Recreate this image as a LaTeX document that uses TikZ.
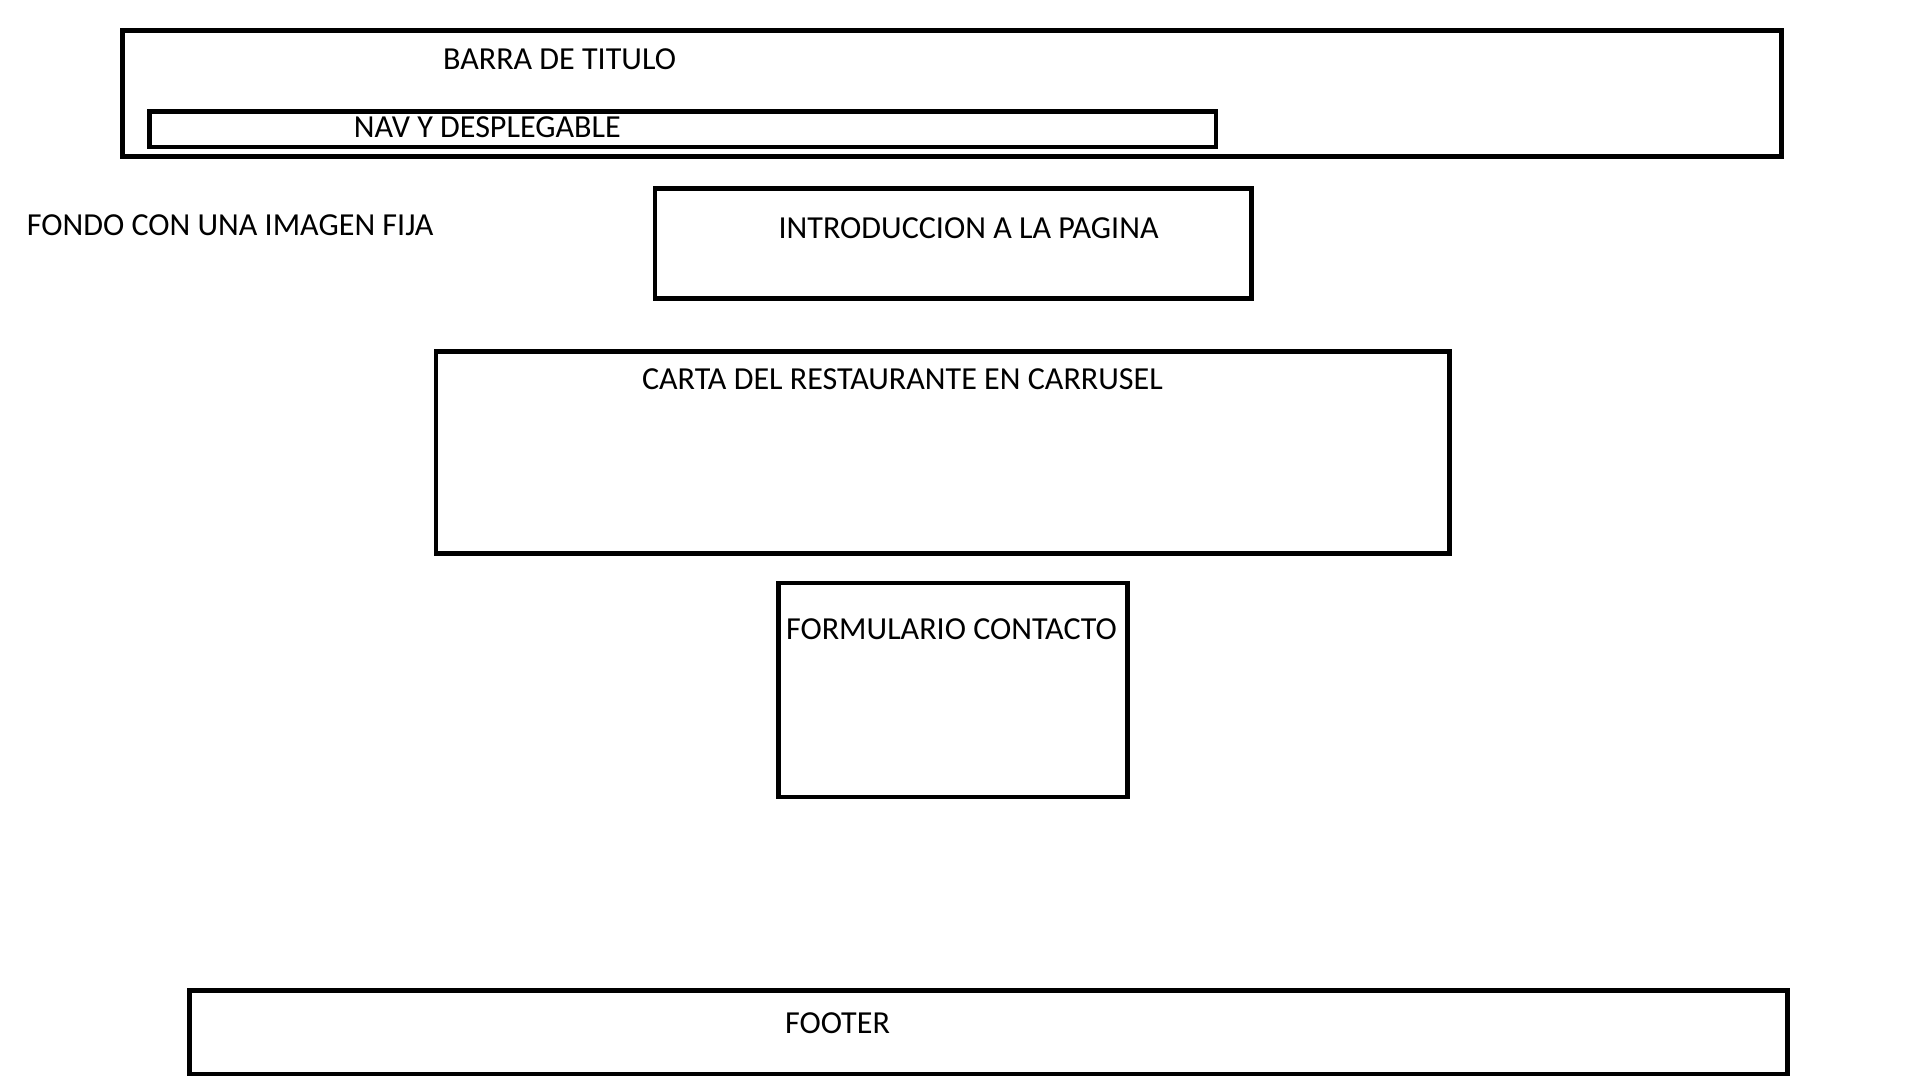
\documentclass[tikz,border=0pt]{standalone}
\usepackage{fontspec}
\setmainfont{Carlito}
\newcommand{\lw}{3.8pt}
\newcommand{\txtsize}{\fontsize{26.2}{30}\selectfont}
\begin{document}
\begin{tikzpicture}[x=1pt,y=-1pt]
\tikzset{caja/.style={draw=black, line width=\lw},
         rotulo/.style={inner sep=0pt, font=\txtsize}}

\useasboundingbox (0,0) rectangle (1568,882);

% cabecera
\draw[caja](100,25) rectangle (1455,128);
\draw[caja](122,91) rectangle (993,120);
\node[rotulo] (barra) at (457,48) {BARRA DE TITULO};
\node[rotulo] (nav) at (398,104) {NAV Y DESPLEGABLE};

\node[rotulo] (fondo) at (188,184) {FONDO CON UNA IMAGEN FIJA};

% cuerpo
\draw[caja](535,154) rectangle (1022,244);
\node[rotulo] (intro) at (791,186) {INTRODUCCION A LA PAGINA};

\draw[caja](356,287) rectangle (1184,452);
\node[rotulo] (carta) at (737,310) {CARTA DEL RESTAURANTE EN CARRUSEL};

\draw[caja](636,476) rectangle (921,651);
\node[rotulo] (form) at (777,514) {FORMULARIO CONTACTO};

% pie
\draw[caja](155,809) rectangle (1460,877);
\node[rotulo] (footer) at (684,836) {FOOTER};
\end{tikzpicture}
\end{document}
